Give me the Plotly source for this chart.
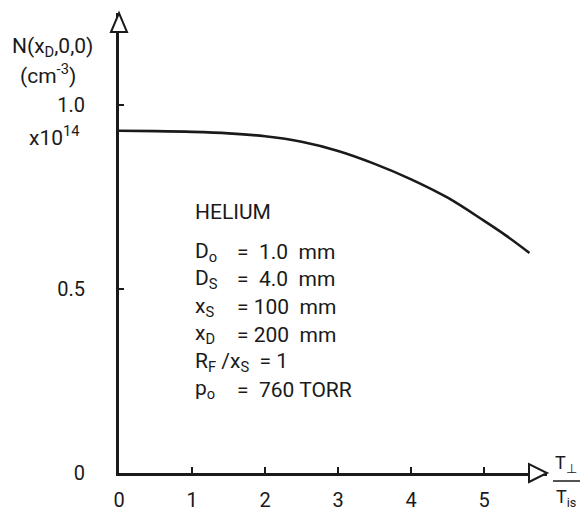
import plotly.graph_objects as go

# data
t_ratio = [0.0, 0.5, 1.0, 1.5, 2.0, 2.5, 3.0, 3.5, 4.0, 4.5, 5.0, 5.3, 5.62]
density = [0.930, 0.929, 0.927, 0.923, 0.915, 0.900, 0.875, 0.840, 0.798, 0.748, 0.685, 0.645, 0.598]
x_ticks = [0, 1, 2, 3, 4, 5]
y_ticks = [0, 0.5, 1.0]
y_tick_text = ["0", "0.5", "1.0"]

W, H = 581, 513
L, R, T, B = 119, 34, 13, 40
pw, ph = W - L - R, H - T - B

def px(x):
    return (x - L) / pw

def py(y):
    return (H - B - y) / ph

FONT = "Roboto"
INK = "#1a1a1a"

fig = go.Figure()
fig.add_trace(go.Scatter(x=t_ratio, y=density, mode="lines",
                         line=dict(color=INK, width=2.6, shape="spline"),
                         showlegend=False, hoverinfo="skip"))

fig.update_layout(
    width=W, height=H,
    margin=dict(l=L, r=R, t=T, b=B, autoexpand=False),
    paper_bgcolor="white", plot_bgcolor="white",
    font=dict(family=FONT, size=20, color=INK),
    xaxis=dict(range=[0, 5.86], showgrid=False, zeroline=False, automargin=False,
               showline=True, linecolor=INK, linewidth=3,
               tickmode="array", tickvals=x_ticks, ticktext=[str(v) for v in x_ticks],
               ticks="inside", ticklen=6, tickwidth=1.5, tickcolor=INK,
               ticklabelstandoff=7, tickfont=dict(size=20)),
    yaxis=dict(range=[0, 1.25], showgrid=False, zeroline=False, automargin=False,
               showline=True, linecolor=INK, linewidth=3,
               tickmode="array", tickvals=y_ticks, ticktext=y_tick_text,
               ticks="inside", ticklen=5, tickwidth=1.5, tickcolor=INK,
               ticklabelstandoff=27, tickfont=dict(size=20)),
)

# hollow arrowheads at axis ends (paper refs so they are not clipped)
fig.add_shape(type="path", xref="paper", yref="paper", xsizemode="pixel", ysizemode="pixel",
              xanchor=1, yanchor=0, path="M -18,-9 L 0,0 L -18,9 Z",
              line=dict(color=INK, width=2), fillcolor="white", layer="above")
fig.add_shape(type="path", xref="paper", yref="paper", xsizemode="pixel", ysizemode="pixel",
              xanchor=0, yanchor=1, path="M -8,-19 L 0,0 L 8,-19 Z",
              line=dict(color=INK, width=2), fillcolor="white", layer="above")

def ann(text, x, y, xanchor="left", size=20, yanchor="middle"):
    fig.add_annotation(text=text, x=px(x), y=py(y), xref="paper", yref="paper",
                       xanchor=xanchor, yanchor=yanchor, showarrow=False,
                       font=dict(family=FONT, size=size, color=INK))

# y-axis title
ann("N(x<sub>D</sub>,0,0)", 52, 47, xanchor="center", size=21)
ann("(cm<sup>-3</sup>)", 48, 74, xanchor="center", size=21)
ann("x10<sup>14</sup>", 82, 136, xanchor="right", size=21)

# x-axis title as a fraction
ann("T<sub>⊥</sub>", 566, 464, xanchor="center", size=18)
ann("T<sub>is</sub>", 566, 498, xanchor="center", size=18)
fig.add_shape(type="line", xref="paper", yref="paper",
              x0=px(553), x1=px(580), y0=py(481), y1=py(481),
              line=dict(color=INK, width=1.5))

# parameter block
BS = 21
ann("HELIUM", 193, 212, size=BS)
rows = [("D<sub>o</sub>", "=  1.0  mm"),
        ("D<sub>S</sub>", "=  4.0  mm"),
        ("x<sub>S</sub>", "= 100  mm"),
        ("x<sub>D</sub>", "= 200  mm")]
y0 = 252
for i, (lhs, rhs) in enumerate(rows):
    yy = y0 + i * 27.5
    ann(lhs, 193, yy, size=BS)
    ann(rhs, 235, yy, size=BS)
ann("R<sub>F</sub> /x<sub>S</sub>  = 1", 193, y0 + 4 * 27.5, size=BS)
ann("p<sub>o</sub>", 193, y0 + 5 * 27.5, size=BS)
ann("=  760 TORR", 235, y0 + 5 * 27.5, size=BS)

fig.write_html("out.html")
